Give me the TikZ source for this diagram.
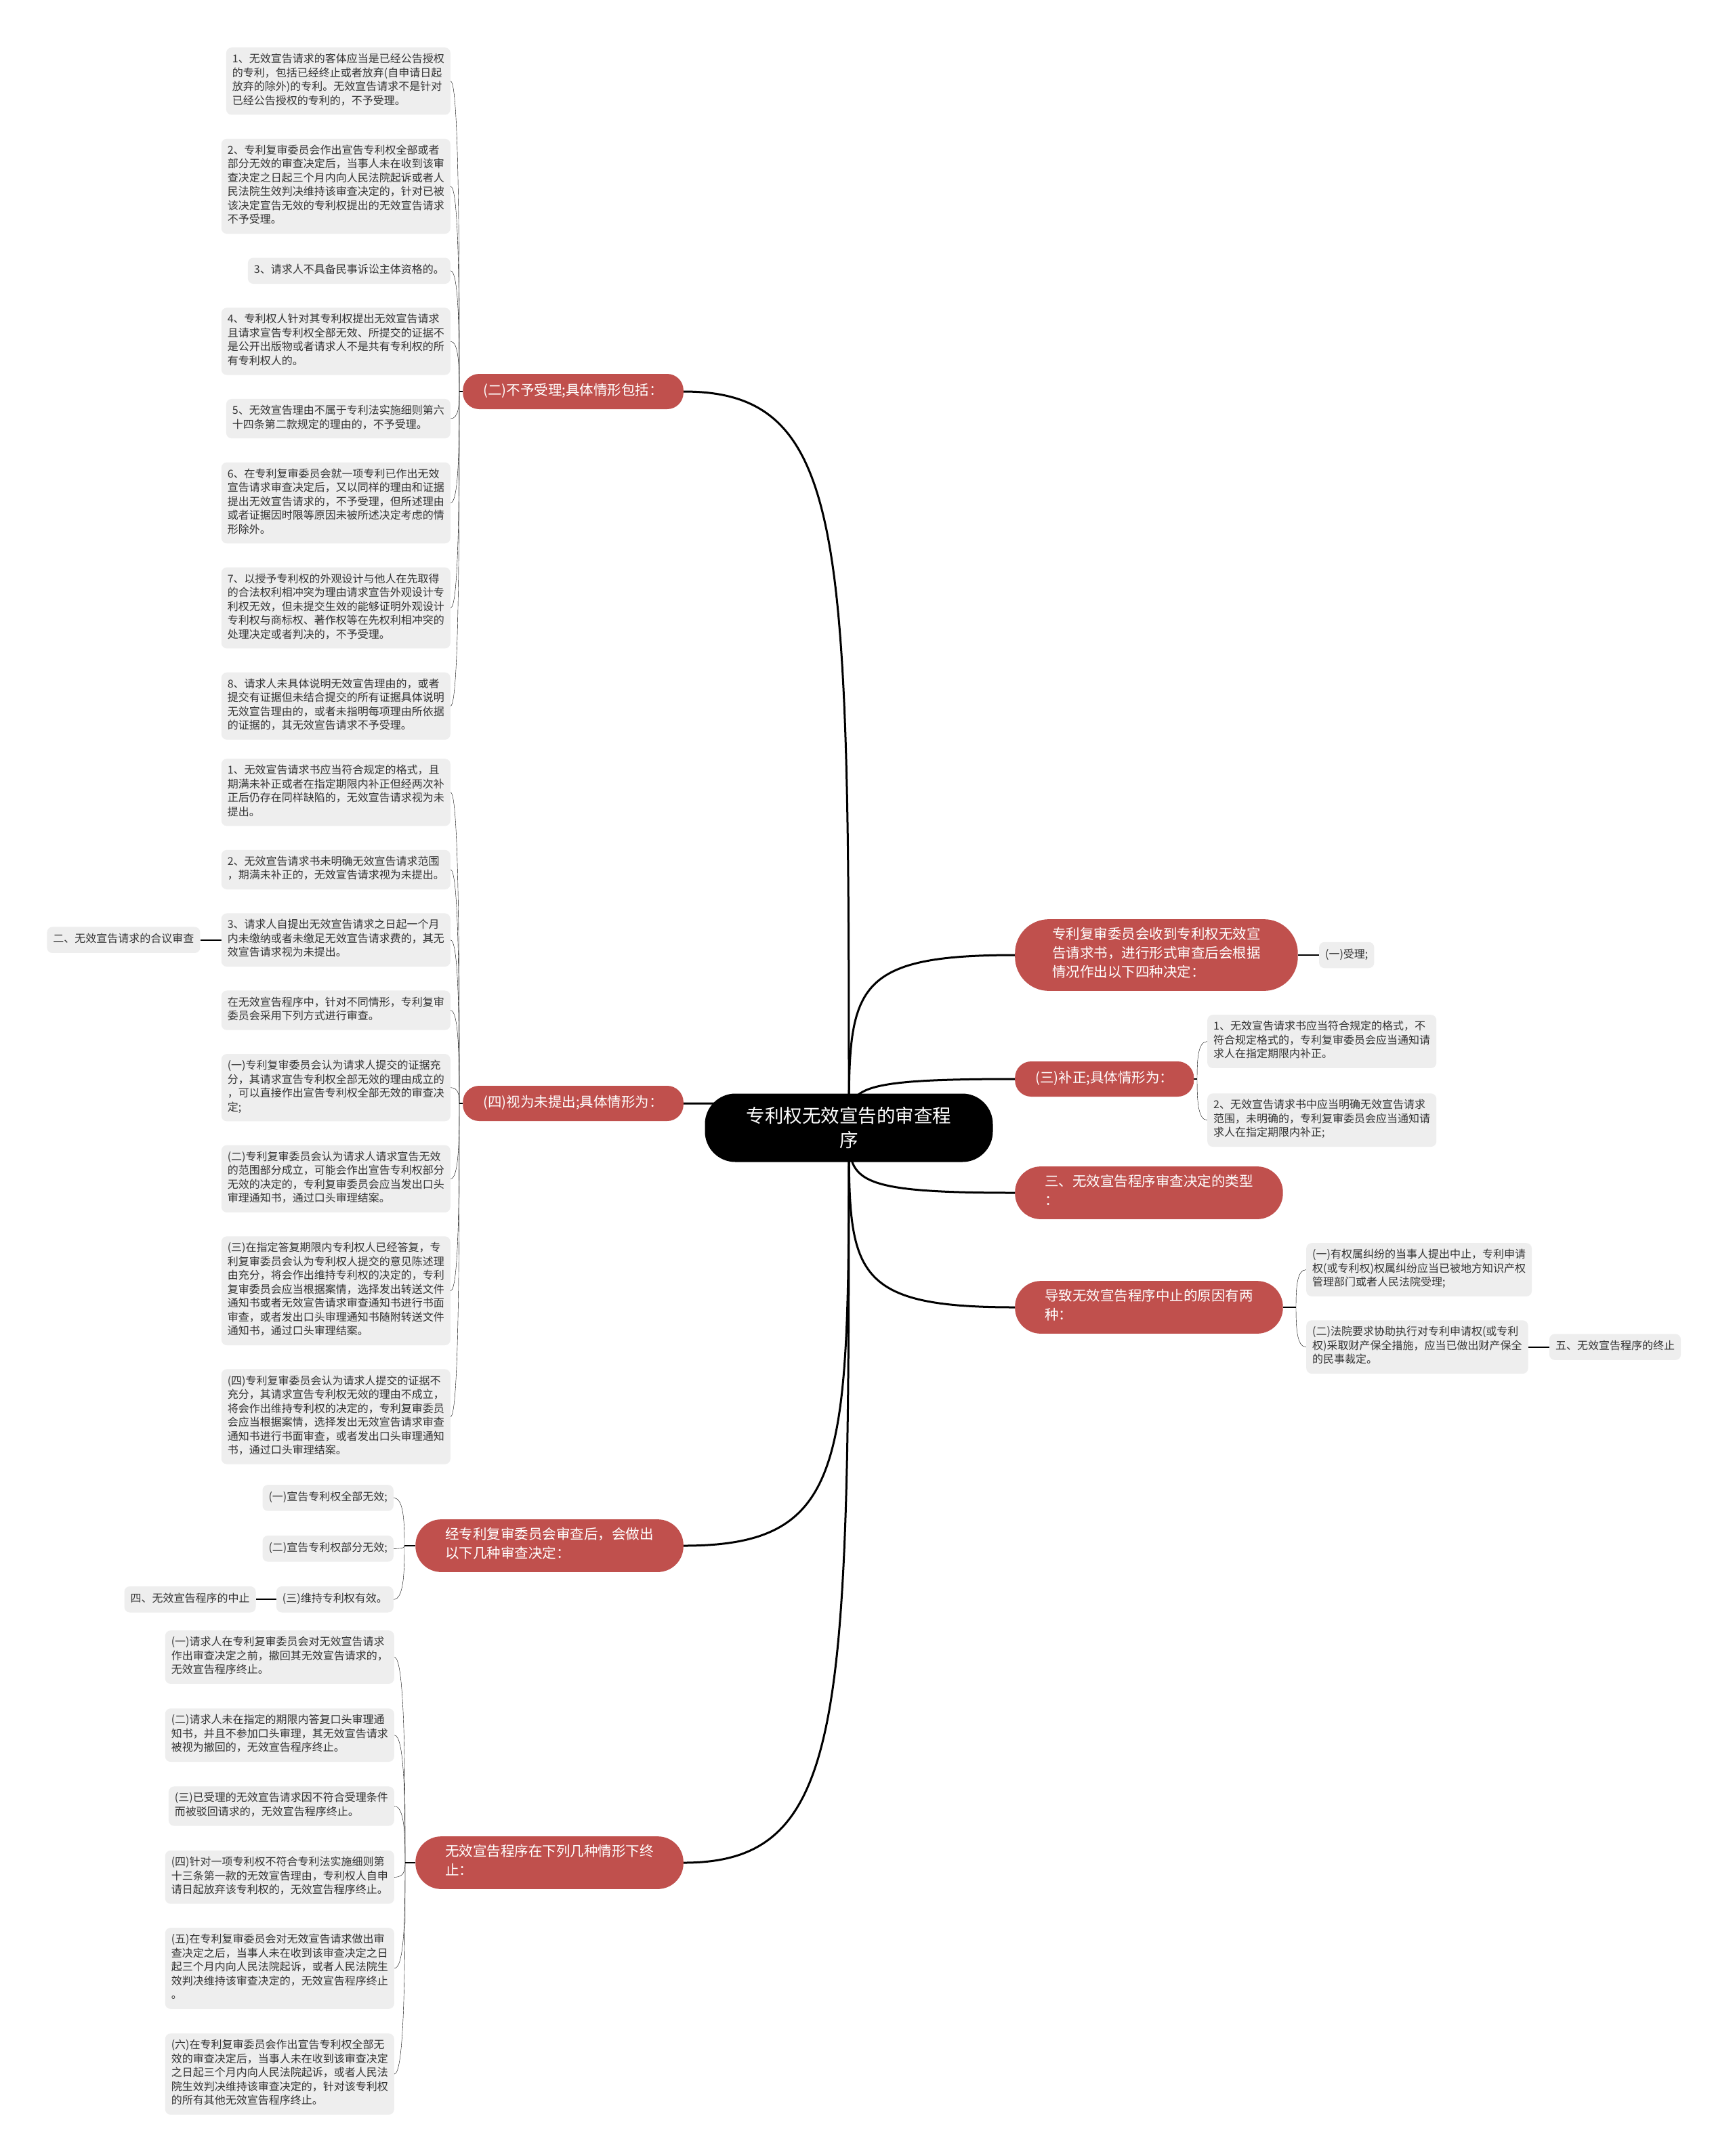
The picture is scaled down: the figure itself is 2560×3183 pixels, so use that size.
\documentclass[tikz,border=0pt]{standalone}
\usepackage{fontspec}
\setmainfont{Noto Sans CJK SC}
\usetikzlibrary{positioning,calc,backgrounds}

\definecolor{pillred}{HTML}{C0504D}
\definecolor{leafgray}{HTML}{EEEEEE}
\definecolor{leafink}{HTML}{333333}

\begin{document}
\begin{tikzpicture}[
    x=1pt, y=-1pt,
    hub/.style={rectangle, fill=black, text=white, rounded corners=45pt, align=center, font=\fontsize{27.5pt}{36.5pt}\selectfont, minimum width=425pt, minimum height=101pt},
    pill/.style={rectangle, fill=pillred, text=white, rounded corners=24pt, align=left, font=\fontsize{20.5pt}{28pt}\selectfont, inner xsep=30pt, inner ysep=12pt, execute at begin node=\strut, execute at end node=\strut},
    pill2/.style={pill, rounded corners=38pt, inner xsep=44pt},
    pill3/.style={pill, rounded corners=50pt, inner xsep=55pt},
    leaf/.style={rectangle, fill=leafgray, text=leafink, rounded corners=8pt, align=left, font=\fontsize{16pt}{20.5pt}\selectfont, inner xsep=9pt, inner ysep=9pt, execute at begin node=\strut, execute at end node=\strut},
    trunk/.style={line width=3pt, to path={.. controls ($(\tikztostart)!.8!(\tikztostart |- \tikztotarget)$) and (\tikztostart |- \tikztotarget) .. (\tikztotarget)}},
    link/.style={line width=2pt},
    brace/.style={link, to path={.. controls ($(\tikztostart)!.5!(\tikztostart |- \tikztotarget)$) and +(#1,0) .. (\tikztotarget)}}
  ]
  \useasboundingbox (0,0) rectangle (2560,3183);

  % centre
  \node[hub] (hub) at (1253,1665) {专利权无效宣告的审查程\\序};

  % main branches, left
  \node[pill, anchor=east] (p1) at (1009,578) {(二)不予受理;具体情形包括：};
  \node[pill, anchor=east] (p2) at (1009,1629) {(四)视为未提出;具体情形为：};
  \node[pill2, anchor=east] (p3) at (1009,2282) {经专利复审委员会审查后，会做出\\以下几种审查决定：};
  \node[pill2, anchor=east] (p4) at (1009,2750) {无效宣告程序在下列几种情形下终\\止：};

  % main branches, right
  \node[pill3, anchor=west] (q1) at (1498,1410) {专利复审委员会收到专利权无效宣\\告请求书，进行形式审查后会根据\\情况作出以下四种决定：};
  \node[pill, anchor=west] (q2) at (1498,1593) {(三)补正;具体情形为：};
  \node[pill2, anchor=west] (q3) at (1498,1761) {三、无效宣告程序审查决定的类型\\：};
  \node[pill2, anchor=west] (q4) at (1498,1930) {导致无效宣告程序中止的原因有两\\种：};

  % (二) not accepted
  \node[leaf, anchor=north east] (a1) at (665,70) {1、无效宣告请求的客体应当是已经公告授权\\的专利，包括已经终止或者放弃(自申请日起\\放弃的除外)的专利。无效宣告请求不是针对\\已经公告授权的专利的，不予受理。};
  \node[leaf, below=35pt of a1.south east, anchor=north east] (a2) {2、专利复审委员会作出宣告专利权全部或者\\部分无效的审查决定后，当事人未在收到该审\\查决定之日起三个月内向人民法院起诉或者人\\民法院生效判决维持该审查决定的，针对已被\\该决定宣告无效的专利权提出的无效宣告请求\\不予受理。};
  \node[leaf, below=35pt of a2.south east, anchor=north east] (a3) {3、请求人不具备民事诉讼主体资格的。};
  \node[leaf, below=35pt of a3.south east, anchor=north east] (a4) {4、专利权人针对其专利权提出无效宣告请求\\且请求宣告专利权全部无效、所提交的证据不\\是公开出版物或者请求人不是共有专利权的所\\有专利权人的。};
  \node[leaf, below=35pt of a4.south east, anchor=north east] (a5) {5、无效宣告理由不属于专利法实施细则第六\\十四条第二款规定的理由的，不予受理。};
  \node[leaf, below=35pt of a5.south east, anchor=north east] (a6) {6、在专利复审委员会就一项专利已作出无效\\宣告请求审查决定后，又以同样的理由和证据\\提出无效宣告请求的，不予受理，但所述理由\\或者证据因时限等原因未被所述决定考虑的情\\形除外。};
  \node[leaf, below=35pt of a6.south east, anchor=north east] (a7) {7、以授予专利权的外观设计与他人在先取得\\的合法权利相冲突为理由请求宣告外观设计专\\利权无效，但未提交生效的能够证明外观设计\\专利权与商标权、著作权等在先权利相冲突的\\处理决定或者判决的，不予受理。};
  \node[leaf, below=35pt of a7.south east, anchor=north east] (a8) {8、请求人未具体说明无效宣告理由的，或者\\提交有证据但未结合提交的所有证据具体说明\\无效宣告理由的，或者未指明每项理由所依据\\的证据的，其无效宣告请求不予受理。};

  % (四) deemed not filed
  \node[leaf, anchor=north east] (b1) at (665,1120) {1、无效宣告请求书应当符合规定的格式，且\\期满未补正或者在指定期限内补正但经两次补\\正后仍存在同样缺陷的，无效宣告请求视为未\\提出。};
  \node[leaf, below=35pt of b1.south east, anchor=north east] (b2) {2、无效宣告请求书未明确无效宣告请求范围\\，期满未补正的，无效宣告请求视为未提出。};
  \node[leaf, below=35pt of b2.south east, anchor=north east] (b3) {3、请求人自提出无效宣告请求之日起一个月\\内未缴纳或者未缴足无效宣告请求费的，其无\\效宣告请求视为未提出。};
  \node[leaf, below=35pt of b3.south east, anchor=north east] (b4) {在无效宣告程序中，针对不同情形，专利复审\\委员会采用下列方式进行审查。};
  \node[leaf, below=35pt of b4.south east, anchor=north east] (b5) {(一)专利复审委员会认为请求人提交的证据充\\分，其请求宣告专利权全部无效的理由成立的\\，可以直接作出宣告专利权全部无效的审查决\\定;};
  \node[leaf, below=35pt of b5.south east, anchor=north east] (b6) {(二)专利复审委员会认为请求人请求宣告无效\\的范围部分成立，可能会作出宣告专利权部分\\无效的决定的，专利复审委员会应当发出口头\\审理通知书，通过口头审理结案。};
  \node[leaf, below=35pt of b6.south east, anchor=north east] (b7) {(三)在指定答复期限内专利权人已经答复，专\\利复审委员会认为专利权人提交的意见陈述理\\由充分，将会作出维持专利权的决定的，专利\\复审委员会应当根据案情，选择发出转送文件\\通知书或者无效宣告请求审查通知书进行书面\\审查，或者发出口头审理通知书随附转送文件\\通知书，通过口头审理结案。};
  \node[leaf, below=35pt of b7.south east, anchor=north east] (b8) {(四)专利复审委员会认为请求人提交的证据不\\充分，其请求宣告专利权无效的理由不成立，\\将会作出维持专利权的决定的，专利复审委员\\会应当根据案情，选择发出无效宣告请求审查\\通知书进行书面审查，或者发出口头审理通知\\书，通过口头审理结案。};
  \node[leaf, left=31pt of b3] (bx) {二、无效宣告请求的合议审查};

  % decisions
  \node[leaf, anchor=north east] (c1) at (581,2192) {(一)宣告专利权全部无效;};
  \node[leaf, below=36pt of c1.south east, anchor=north east] (c2) {(二)宣告专利权部分无效;};
  \node[leaf, below=36pt of c2.south east, anchor=north east] (c3) {(三)维持专利权有效。};
  \node[leaf, left=30pt of c3] (cx) {四、无效宣告程序的中止};

  % termination
  \node[leaf, anchor=north east] (d1) at (582,2407) {(一)请求人在专利复审委员会对无效宣告请求\\作出审查决定之前，撤回其无效宣告请求的，\\无效宣告程序终止。};
  \node[leaf, below=36pt of d1.south east, anchor=north east] (d2) {(二)请求人未在指定的期限内答复口头审理通\\知书，并且不参加口头审理，其无效宣告请求\\被视为撤回的，无效宣告程序终止。};
  \node[leaf, below=36pt of d2.south east, anchor=north east] (d3) {(三)已受理的无效宣告请求因不符合受理条件\\而被驳回请求的，无效宣告程序终止。};
  \node[leaf, below=36pt of d3.south east, anchor=north east] (d4) {(四)针对一项专利权不符合专利法实施细则第\\十三条第一款的无效宣告理由，专利权人自申\\请日起放弃该专利权的，无效宣告程序终止。};
  \node[leaf, below=35pt of d4.south east, anchor=north east] (d5) {(五)在专利复审委员会对无效宣告请求做出审\\查决定之后，当事人未在收到该审查决定之日\\起三个月内向人民法院起诉，或者人民法院生\\效判决维持该审查决定的，无效宣告程序终止\\。};
  \node[leaf, below=36pt of d5.south east, anchor=north east] (d6) {(六)在专利复审委员会作出宣告专利权全部无\\效的审查决定后，当事人未在收到该审查决定\\之日起三个月内向人民法院起诉，或者人民法\\院生效判决维持该审查决定的，针对该专利权\\的所有其他无效宣告程序终止。};

  % right side
  \node[leaf, right=31pt of q1] (r1) {(一)受理;};
  \node[leaf, anchor=north west] (e1) at (1782,1498) {1、无效宣告请求书应当符合规定的格式，不\\符合规定格式的，专利复审委员会应当通知请\\求人在指定期限内补正。};
  \node[leaf, below=37pt of e1.south west, anchor=north west] (e2) {2、无效宣告请求书中应当明确无效宣告请求\\范围，未明确的，专利复审委员会应当通知请\\求人在指定期限内补正;};
  \node[leaf, anchor=north west] (f1) at (1928,1835) {(一)有权属纠纷的当事人提出中止，专利申请\\权(或专利权)权属纠纷应当已被地方知识产权\\管理部门或者人民法院受理;};
  \node[leaf, below=35pt of f1.south west, anchor=north west] (f2) {(二)法院要求协助执行对专利申请权(或专利\\权)采取财产保全措施，应当已做出财产保全\\的民事裁定。};
  \node[leaf, right=31pt of f2] (fx) {五、无效宣告程序的终止};

  \begin{scope}[on background layer]
    \fill[white] (0,0) rectangle (2560,3183);
    % centre to branches
    \foreach \p in {p1,p2,p3,p4} \draw[trunk] (hub.center) to (\p.east);
    \foreach \q in {q1,q2,q3,q4} \draw[trunk] (hub.center) to (\q.west);
    % junctions
    \coordinate (j1) at ($(a1.east |- p1.west)+(13,0)$);
    \coordinate (j2) at ($(b1.east |- p2.west)+(13,0)$);
    \coordinate (j3) at ($(c1.east |- p3.west)+(16,0)$);
    \coordinate (j4) at ($(d1.east |- p4.west)+(16,0)$);
    \coordinate (k2) at ($(e1.west |- q2.east)+(-15,0)$);
    \coordinate (k4) at ($(f1.west |- q4.east)+(-15,0)$);
    \draw[link] (p1.west) -- (j1);
    \draw[link] (p2.west) -- (j2);
    \draw[link] (p3.west) -- (j3);
    \draw[link] (p4.west) -- (j4);
    \draw[link] (q2.east) -- (k2);
    \draw[link] (q4.east) -- (k4);
    \foreach \i in {1,...,8} \draw (j1) to[brace=12] (a\i.east);
    \foreach \i in {1,...,8} \draw (j2) to[brace=12] (b\i.east);
    \foreach \i in {1,2,3} \draw (j3) to[brace=15] (c\i.east);
    \foreach \i in {1,...,6} \draw (j4) to[brace=15] (d\i.east);
    \foreach \i in {1,2} \draw (k2) to[brace=-14] (e\i.west);
    \foreach \i in {1,2} \draw (k4) to[brace=-14] (f\i.west);
    % single children
    \draw[link] (q1.east) -- (r1.west);
    \draw[link] (b3.west) -- (bx.east);
    \draw[link] (c3.west) -- (cx.east);
    \draw[link] (f2.east) -- (fx.west);
  \end{scope}
\end{tikzpicture}
\end{document}
